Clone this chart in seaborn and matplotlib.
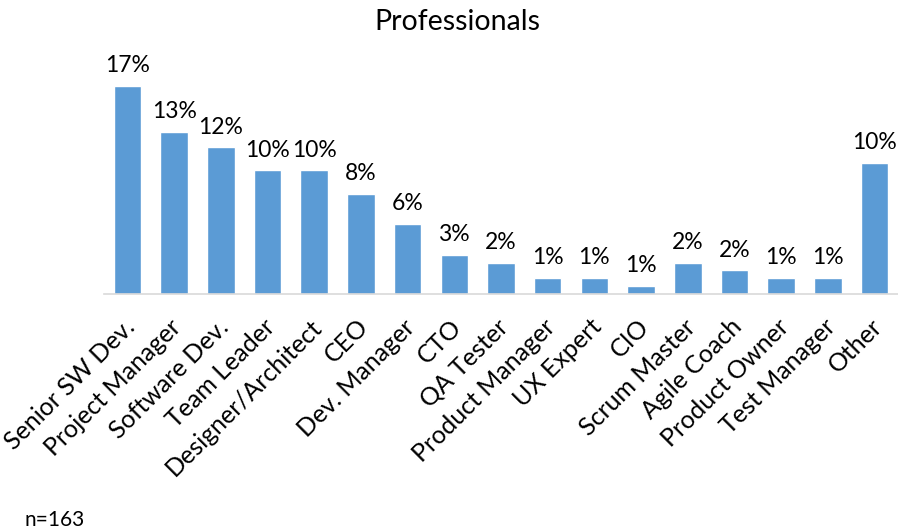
import matplotlib
matplotlib.use("Agg")
import matplotlib.pyplot as plt
import matplotlib.transforms as mtransforms
import seaborn as sns
import pandas as pd
import numpy as np

# Survey responses by role (n = 163)
roles = ["Senior SW Dev.", "Project Manager", "Software Dev.", "Team Leader",
         "Designer/Architect", "CEO", "Dev. Manager", "CTO", "QA Tester",
         "Product Manager", "UX Expert", "CIO", "Scrum Master", "Agile Coach",
         "Product Owner", "Test Manager", "Other"]
counts = [27, 21, 19, 16, 16, 13, 9, 5, 4, 2, 2, 1, 4, 3, 2, 2, 17]
n_total = 163

df = pd.DataFrame({"role": roles, "count": counts})
df["share"] = df["count"] / n_total * 100

sns.set_theme(style="white")
plt.rcParams["font.family"] = ["Lato", "DejaVu Sans"]

W, H, DPI = 898, 532, 100
fig = plt.figure(figsize=(W / DPI, H / DPI), dpi=DPI)
ax = fig.add_axes([104 / W, 1 - 293.5 / H, 1 - 104 / W, (293.5 - 60) / H])

bar_color = "#5B9BD5"
sns.barplot(data=df, x="role", y="share", color=bar_color, width=0.59,
            saturation=1, ax=ax)

ax.set_xlim(-0.5, len(roles) - 0.5)
ax.set_ylim(0, 18.63)

# value labels above each bar
for i, v in enumerate(df["share"]):
    ax.annotate(f"{v:.0f}%", (i, v), xytext=(0, 10), textcoords="offset points",
                ha="center", va="baseline", fontsize=16.5, color="#000000")

# axis styling: only a light baseline with boundary ticks
for side in ["left", "right", "top"]:
    ax.spines[side].set_visible(False)
ax.spines["bottom"].set_color("#d9d9d9")
ax.spines["bottom"].set_linewidth(1.2)
ax.set_yticks([])
ax.set_xlabel("")
ax.set_ylabel("")
ax.set_xticks(np.arange(len(roles)))
ax.set_xticklabels(roles, rotation=45, ha="right", va="top",
                   rotation_mode="anchor", fontsize=18, color="#000000")
ax.tick_params(axis="x", which="major", length=0, pad=15.5)
shift = mtransforms.ScaledTranslation(-4.5 / DPI, 0, fig.dpi_scale_trans)
for lbl in ax.get_xticklabels():
    lbl.set_transform(lbl.get_transform() + shift)
ax.set_xticks(np.arange(len(roles) + 1) - 0.5, minor=True)
ax.tick_params(axis="x", which="minor", length=7, width=1.2,
               color="#d9d9d9", direction="out")

fig.text(457 / W, 1 - 22 / H, "Professionals", ha="center", va="center",
         fontsize=20.5, color="#000000")
fig.text(24 / W, 1 - 520 / H, f"n={n_total}", ha="left", va="center",
         fontsize=15, color="#000000")

fig.savefig("out.png", dpi=DPI)
